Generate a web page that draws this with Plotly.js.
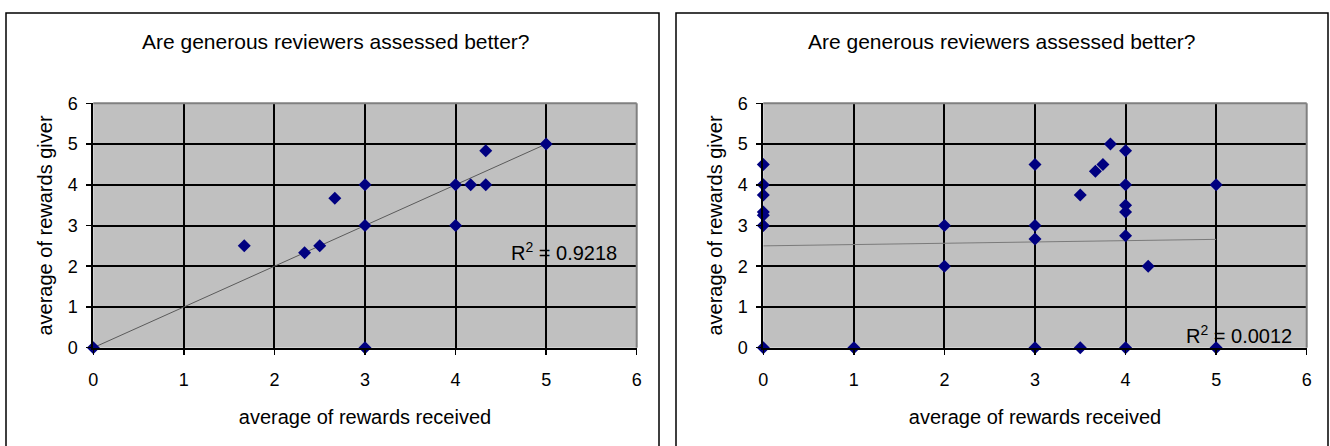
<!DOCTYPE html>
<html>
<head>
<meta charset="utf-8">
<script src="https://cdn.plot.ly/plotly-3.0.1.min.js"></script>
<style>html,body{margin:0;padding:0;background:#fff}#chart{width:1330px;height:446px}</style>
</head>
<body>
<div id="chart"></div>
<script>
// ---- Data ----
const chartTitle = "Are generous reviewers assessed better?";
const xAxisTitle = "average of rewards received";
const yAxisTitle = "average of rewards giver";

// Left chart
const leftX = [0, 1.667, 2.333, 2.5, 2.667, 3, 3, 3, 4, 4, 4.167, 4.333, 4.333, 5];
const leftY = [0, 2.5, 2.333, 2.5, 3.667, 4, 3, 0, 4, 3, 4, 4, 4.833, 5];
const leftTrendX = [0, 5];
const leftTrendY = [0, 5];
const leftR2 = "0.9218";

// Right chart
const rightX = [0, 0, 0, 0, 0, 0, 0, 1, 2, 2, 3, 3, 3, 3, 3.5, 3.5, 3.667, 3.75, 3.833, 4, 4, 4, 4, 4, 4, 4.25, 5, 5];
const rightY = [4.5, 4, 3.75, 3.333, 3.25, 3, 0, 0, 3, 2, 4.5, 3, 2.667, 0, 0, 3.75, 4.333, 4.5, 5, 4.833, 4, 3.5, 3.333, 2.75, 0, 2, 4, 0];
const rightTrendX = [0, 5];
const rightTrendY = [2.5, 2.66];
const rightR2 = "0.0012";

const tickVals = [0, 1, 2, 3, 4, 5, 6];

// ---- Layout helpers ----
const W = 1330, H = 446;
const px = v => v / W;
const py = v => 1 - v / H;
const FONT = "Liberation Sans, Arial, sans-serif";

function xax(d0, d1, yname) {
  return {
    domain: [px(d0), px(d1)], range: [0, 6], anchor: yname,
    tickvals: tickVals, ticktext: tickVals.map(String),
    showgrid: true, gridcolor: "#000", gridwidth: 2,
    showline: true, linecolor: "#000", linewidth: 2,
    ticks: "outside", ticklen: 5, tickwidth: 1.5, tickcolor: "#000",
    ticklabelstandoff: 10,
    zeroline: false, fixedrange: true, automargin: false,
    tickfont: {family: FONT, size: 18, color: "#000"},
    title: {text: xAxisTitle, font: {family: FONT, size: 20, color: "#000"}, standoff: 21}
  };
}
function yax(xname) {
  return {
    domain: [py(347.7), py(103.3)], range: [0, 6], anchor: xname,
    tickvals: tickVals, ticktext: tickVals.map(String),
    showgrid: true, gridcolor: "#000", gridwidth: 2,
    showline: true, linecolor: "#000", linewidth: 2,
    ticks: "outside", ticklen: 5, tickwidth: 1.5, tickcolor: "#000",
    ticklabelstandoff: 5,
    zeroline: false, fixedrange: true, automargin: false,
    tickfont: {family: FONT, size: 18, color: "#000"},
    title: {text: yAxisTitle, font: {family: FONT, size: 20, color: "#000"}, standoff: 10}
  };
}

const markerStyle = {symbol: "diamond", size: 10, color: "#000080", line: {width: 0}};

const data = [
  {x: leftTrendX, y: leftTrendY, xaxis: "x", yaxis: "y", mode: "lines", line: {color: "#5a5a5a", width: 1}, hoverinfo: "skip"},
  {x: leftX, y: leftY, xaxis: "x", yaxis: "y", mode: "markers", marker: markerStyle, cliponaxis: false},
  {x: rightTrendX, y: rightTrendY, xaxis: "x2", yaxis: "y2", mode: "lines", line: {color: "#7a7a7a", width: 1}, hoverinfo: "skip"},
  {x: rightX, y: rightY, xaxis: "x2", yaxis: "y2", mode: "markers", marker: markerStyle, cliponaxis: false}
];

function borderShapes(xr, yr) {
  return [
    {type: "line", xref: xr + " domain", yref: yr + " domain", x0: 0, x1: 1, y0: 1, y1: 1, line: {color: "#808080", width: 2}, layer: "above"},
    {type: "line", xref: xr + " domain", yref: yr + " domain", x0: 1, x1: 1, y0: 0, y1: 1, line: {color: "#808080", width: 2}, layer: "above"}
  ];
}

const layout = {
  width: W, height: H,
  margin: {l: 0, r: 0, t: 0, b: 0},
  paper_bgcolor: "#fff", plot_bgcolor: "#C0C0C0",
  showlegend: false,
  font: {family: FONT, color: "#000"},
  xaxis: xax(93.3, 636.7, "y"),
  yaxis: yax("x"),
  xaxis2: xax(763.3, 1306.7, "y2"),
  yaxis2: yax("x2"),
  shapes: [
    {type: "rect", xref: "paper", yref: "paper", x0: px(6), x1: px(659), y0: py(13), y1: py(470), line: {color: "#000", width: 1.5}, fillcolor: "rgba(0,0,0,0)"},
    {type: "rect", xref: "paper", yref: "paper", x0: px(676), x1: px(1328), y0: py(13), y1: py(470), line: {color: "#000", width: 1.5}, fillcolor: "rgba(0,0,0,0)"}
  ].concat(borderShapes("x", "y"), borderShapes("x2", "y2")),
  annotations: [
    {text: chartTitle, xref: "paper", yref: "paper", x: px(336), y: py(41), xanchor: "center", yanchor: "middle", showarrow: false, font: {family: FONT, size: 21, color: "#000"}},
    {text: chartTitle, xref: "paper", yref: "paper", x: px(1002), y: py(41), xanchor: "center", yanchor: "middle", showarrow: false, font: {family: FONT, size: 21, color: "#000"}},
    {text: "R<sup>2</sup> = " + leftR2, xref: "x", yref: "y", x: 5.81, y: 2.35, xanchor: "right", yanchor: "middle", showarrow: false, font: {family: FONT, size: 20, color: "#000"}},
    {text: "R<sup>2</sup> = " + rightR2, xref: "x2", yref: "y2", x: 5.86, y: 0.33, xanchor: "right", yanchor: "middle", showarrow: false, font: {family: FONT, size: 20, color: "#000"}}
  ]
};

Plotly.newPlot("chart", data, layout, {staticPlot: true, displayModeBar: false});
</script>
</body>
</html>
